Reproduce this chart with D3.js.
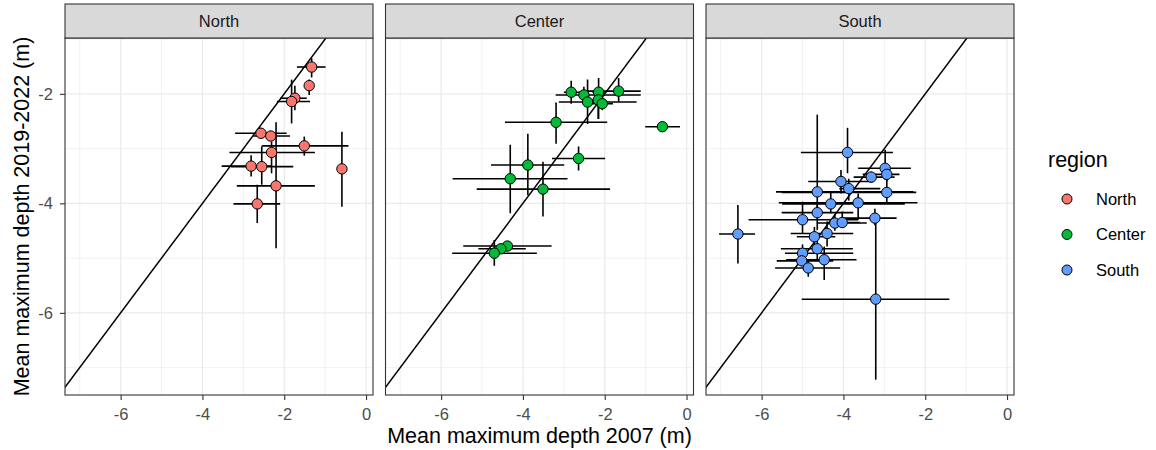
<!DOCTYPE html>
<html>
<head>
<meta charset="utf-8">
<script src="https://cdn.jsdelivr.net/npm/d3@7"></script>
<style>
  html, body { margin: 0; padding: 0; background: #fff; }
  svg { display: block; font-family: "Liberation Sans", Arial, sans-serif; }
</style>
</head>
<body>
<script>
// ---------------- data ----------------
const regions = ["North", "Center", "South"];
const regionColors = ["#F8766D", "#00BA38", "#619CFF"];
const xTicks = [-6, -4, -2, 0];
const yTicks = [-6, -4, -2];
const xMinorTicks = [-7, -5, -3, -1];
const yMinorTicks = [-7, -5, -3, -1];

// North
const northX    = [-1.33, -1.39, -1.74, -1.82, -2.57, -2.33, -1.51, -2.31, -2.81, -2.55, -2.20, -2.66, -0.59];
const northY    = [-1.51, -1.85, -2.08, -2.14, -2.72, -2.77, -2.95, -3.07, -3.32, -3.33, -3.68, -4.01, -3.37];
const northXmin = [-1.69, -1.50, -2.10, -2.18, -3.20, -2.76, -2.55, -3.34, -3.53, -3.30, -3.16, -3.24, -0.65];
const northXmax = [-0.99, -1.30, -1.45, -1.37, -1.94, -1.86, -0.43, -1.25, -2.30, -1.78, -1.25, -2.10, -0.53];
const northYmin = [-1.70, -2.02, -2.30, -2.54, -2.80, -2.85, -3.13, -3.45, -3.51, -3.66, -4.82, -4.36, -4.06];
const northYmax = [-1.35, -1.74, -1.85, -1.74, -2.62, -2.70, -2.78, -2.87, -3.12, -2.96, -2.52, -3.66, -2.69];

// Center
const centerX    = [-2.82, -2.51, -2.15, -1.66, -2.42, -2.16, -2.06, -0.59, -3.19, -2.64, -3.88, -4.31, -3.51, -4.38, -4.54, -4.70];
const centerY    = [-1.97, -2.02, -1.97, -1.95, -2.15, -2.11, -2.18, -2.60, -2.52, -3.18, -3.30, -3.55, -3.74, -4.78, -4.83, -4.91];
const centerXmin = [-3.00, -3.20, -2.30, -2.44, -3.12, -2.30, -2.35, -1.01, -4.44, -3.29, -4.78, -5.72, -5.13, -5.46, -5.09, -5.73];
const centerXmax = [-2.60, -1.12, -2.00, -1.12, -1.22, -2.00, -1.80, -0.16, -1.94, -1.99, -2.99, -2.91, -1.87, -3.30, -3.93, -3.66];
const centerYmin = [-2.18, -2.08, -2.46, -2.15, -2.55, -2.46, -2.30, -2.65, -2.91, -3.40, -3.85, -4.18, -4.24, -4.85, -4.90, -5.14];
const centerYmax = [-1.76, -1.87, -1.71, -1.71, -1.74, -2.07, -2.05, -2.55, -2.16, -2.96, -2.73, -2.93, -3.24, -4.70, -4.76, -4.67];

// South
const southX    = [-6.58, -3.90, -2.98, -2.94, -3.32, -4.06, -3.87, -4.64, -2.94, -3.64, -4.31, -4.64, -5.00, -3.23, -4.21, -4.03, -4.40, -4.71, -4.64, -5.00, -5.02, -4.47, -4.86, -3.21];
const southY    = [-4.56, -3.07, -3.36, -3.47, -3.52, -3.60, -3.73, -3.79, -3.80, -3.99, -4.01, -4.17, -4.30, -4.27, -4.36, -4.35, -4.55, -4.61, -4.83, -4.91, -5.05, -5.03, -5.18, -5.75];
const southXmin = [-7.04, -5.04, -3.64, -3.53, -3.75, -4.86, -4.10, -5.65, -5.51, -5.58, -5.50, -5.51, -6.32, -4.00, -4.65, -4.40, -5.29, -5.14, -5.53, -5.43, -5.63, -5.40, -5.67, -5.02];
const southXmax = [-6.16, -2.79, -2.35, -2.63, -2.75, -3.27, -3.10, -2.29, -2.22, -2.19, -2.50, -3.76, -3.64, -2.70, -3.43, -3.60, -3.76, -4.20, -3.77, -3.76, -4.25, -3.68, -4.08, -1.41];
const southYmin = [-5.10, -3.45, -3.57, -3.60, -3.62, -3.82, -3.95, -4.18, -4.00, -4.30, -4.18, -4.49, -4.55, -4.40, -4.50, -4.45, -4.79, -4.91, -5.03, -5.05, -5.15, -5.40, -5.34, -7.22];
const southYmax = [-4.03, -2.62, -3.02, -3.30, -3.42, -3.39, -3.55, -2.38, -3.57, -3.82, -3.79, -3.97, -3.97, -4.10, -4.20, -4.15, -4.33, -4.43, -4.67, -4.75, -4.95, -4.79, -5.03, -4.18];

const xDomain = [-7.36, 0.17];
const yDomain = [-7.5, -0.98];

function rows(xs, ys, xmin, xmax, ymin, ymax) {
  return xs.map((d, i) => ({ x: d, y: ys[i], xmin: xmin[i], xmax: xmax[i], ymin: ymin[i], ymax: ymax[i] }));
}
const regionData = [
  rows(northX, northY, northXmin, northXmax, northYmin, northYmax),
  rows(centerX, centerY, centerXmin, centerXmax, centerYmin, centerYmax),
  rows(southX, southY, southXmin, southXmax, southYmin, southYmax)
];

// ---------------- layout ----------------
const W = 1156, H = 450;
const pLeft = 65, pTop = 38, pW = 308, pH = 357, gap = 12.5, stripH = 34;

const svg = d3.select("body").append("svg").attr("width", W).attr("height", H);
svg.append("rect").attr("width", W).attr("height", H).attr("fill", "#fff");

const x = d3.scaleLinear().domain(xDomain).range([0, pW]);
const y = d3.scaleLinear().domain(yDomain).range([pH, 0]);

const defs = svg.append("defs");
defs.append("clipPath").attr("id", "pclip")
  .append("rect").attr("x", 0).attr("y", 0).attr("width", pW).attr("height", pH);

regions.forEach((reg, i) => {
  const g = svg.append("g").attr("transform", `translate(${pLeft + i * (pW + gap)},${pTop})`);
  g.append("rect").attr("width", pW).attr("height", pH).attr("fill", "#fff");

  // minor grid
  g.selectAll(".vminor").data(xMinorTicks).join("line")
    .attr("x1", d => x(d)).attr("x2", d => x(d)).attr("y1", 0).attr("y2", pH)
    .attr("stroke", "#EBEBEB").attr("stroke-width", 0.7);
  g.selectAll(".hminor").data(yMinorTicks).join("line")
    .attr("y1", d => y(d)).attr("y2", d => y(d)).attr("x1", 0).attr("x2", pW)
    .attr("stroke", "#EBEBEB").attr("stroke-width", 0.7);
  // major grid
  g.selectAll(".vmajor").data(xTicks).join("line")
    .attr("x1", d => x(d)).attr("x2", d => x(d)).attr("y1", 0).attr("y2", pH)
    .attr("stroke", "#EBEBEB").attr("stroke-width", 1.3);
  g.selectAll(".hmajor").data(yTicks).join("line")
    .attr("y1", d => y(d)).attr("y2", d => y(d)).attr("x1", 0).attr("x2", pW)
    .attr("stroke", "#EBEBEB").attr("stroke-width", 1.3);

  const inner = g.append("g").attr("clip-path", "url(#pclip)");
  // 1:1 line
  const lo = Math.min(xDomain[0], yDomain[0]) - 1, hi = Math.max(xDomain[1], yDomain[1]) + 1;
  inner.append("line")
    .attr("x1", x(lo)).attr("y1", y(lo)).attr("x2", x(hi)).attr("y2", y(hi))
    .attr("stroke", "#000").attr("stroke-width", 1.5);

  const data = regionData[i];
  // horizontal error bars
  inner.selectAll(".hbar").data(data).join("line")
    .attr("x1", d => x(d.xmin)).attr("x2", d => x(d.xmax))
    .attr("y1", d => y(d.y)).attr("y2", d => y(d.y))
    .attr("stroke", "#000").attr("stroke-width", 1.6);
  // vertical error bars
  inner.selectAll(".vbar").data(data).join("line")
    .attr("x1", d => x(d.x)).attr("x2", d => x(d.x))
    .attr("y1", d => y(d.ymin)).attr("y2", d => y(d.ymax))
    .attr("stroke", "#000").attr("stroke-width", 1.6);
  // points
  inner.selectAll(".pt").data(data).join("circle")
    .attr("cx", d => x(d.x)).attr("cy", d => y(d.y)).attr("r", 5.2)
    .attr("fill", regionColors[i]).attr("stroke", "#000").attr("stroke-width", 1);

  // panel border
  g.append("rect").attr("width", pW).attr("height", pH)
    .attr("fill", "none").attr("stroke", "#333333").attr("stroke-width", 1.1);

  // strip
  g.append("rect").attr("x", 0).attr("y", -stripH).attr("width", pW).attr("height", stripH)
    .attr("fill", "#D9D9D9").attr("stroke", "#333333").attr("stroke-width", 1.1);
  g.append("text").attr("x", pW / 2).attr("y", -stripH / 2).attr("dy", "0.35em")
    .attr("text-anchor", "middle").attr("font-size", 16.5).attr("fill", "#1A1A1A").text(reg);

  // x axis
  const xa = g.append("g").attr("transform", `translate(0,${pH})`)
    .call(d3.axisBottom(x).tickValues(xTicks).tickSize(5).tickPadding(8).tickFormat(d => String(d)));
  xa.select(".domain").remove();
  xa.selectAll(".tick line").attr("stroke", "#333333").attr("stroke-width", 1.1);
  xa.selectAll(".tick text").attr("fill", "#4D4D4D").attr("font-size", 16.5)
    .attr("font-family", "Liberation Sans, Arial, sans-serif");

  if (i === 0) {
    const ya = g.append("g")
      .call(d3.axisLeft(y).tickValues(yTicks).tickSize(5).tickPadding(7).tickFormat(d => String(d)));
    ya.select(".domain").remove();
    ya.selectAll(".tick line").attr("stroke", "#333333").attr("stroke-width", 1.1);
    ya.selectAll(".tick text").attr("fill", "#4D4D4D").attr("font-size", 16.5)
      .attr("font-family", "Liberation Sans, Arial, sans-serif");
  }
});

// axis titles
const plotRight = pLeft + 3 * pW + 2 * gap;
svg.append("text").attr("x", (pLeft + plotRight) / 2).attr("y", 443)
  .attr("text-anchor", "middle").attr("font-size", 21.5).attr("fill", "#000")
  .text("Mean maximum depth 2007 (m)");
svg.append("text").attr("transform", `translate(29,${pTop + pH / 2}) rotate(-90)`)
  .attr("text-anchor", "middle").attr("font-size", 21.5).attr("fill", "#000")
  .text("Mean maximum depth 2019-2022 (m)");

// legend
const lg = svg.append("g");
lg.append("text").attr("x", 1048).attr("y", 167).attr("font-size", 21.5).attr("fill", "#000").text("region");
regions.forEach((reg, i) => {
  const cy = 199 + i * 35.5;
  lg.append("circle").attr("cx", 1067).attr("cy", cy).attr("r", 5)
    .attr("fill", regionColors[i]).attr("stroke", "#000").attr("stroke-width", 1);
  lg.append("text").attr("x", 1096).attr("y", cy).attr("dy", "0.35em")
    .attr("font-size", 16.5).attr("fill", "#000").text(reg);
});
</script>
</body>
</html>
